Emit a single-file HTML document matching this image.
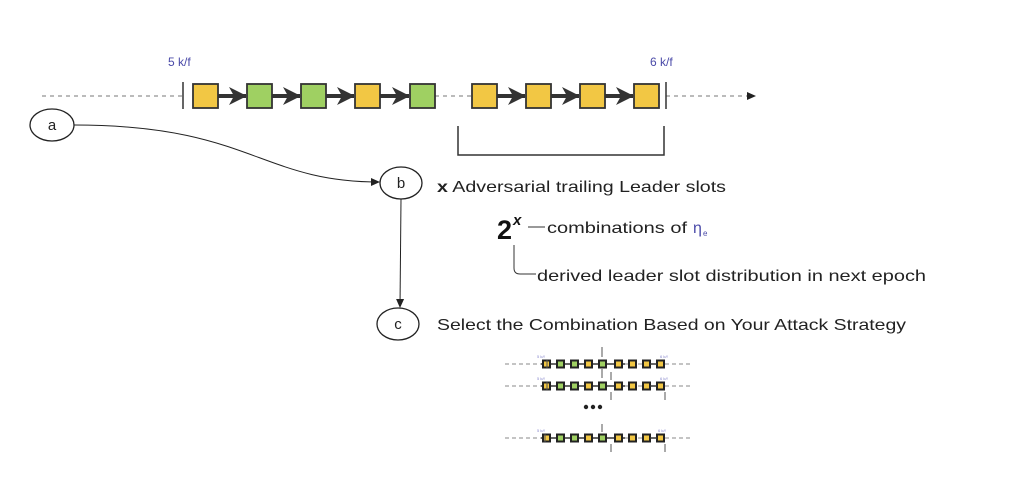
<!DOCTYPE html>
<html><head><meta charset="utf-8"><style>
body{margin:0;background:#fff;width:1029px;height:498px;overflow:hidden}
text{font-family:"Liberation Sans",sans-serif}
</style></head><body>
<svg width="1029" height="498" xmlns="http://www.w3.org/2000/svg">
<defs>
<marker id="ah" markerWidth="10" markerHeight="10" refX="8" refY="5" orient="auto" markerUnits="userSpaceOnUse"><path d="M0,1 L9,5 L0,9 Z" fill="#222"/></marker>
<marker id="big" markerWidth="20" markerHeight="20" refX="17" refY="10" orient="auto" markerUnits="userSpaceOnUse"><path d="M0,1 L18,10 L0,19 L5,10 Z" fill="#333"/></marker>
<g id="row">
<line x1="0" y1="0" x2="155" y2="0" stroke="#888" stroke-dasharray="4,3"/>
<line x1="36" y1="0" x2="120" y2="0" stroke="#333" stroke-width="1.5"/>
<g stroke="#222" stroke-width="2">
<rect x="38" y="-3.5" width="7" height="7" fill="#f2c744"/>
<rect x="52" y="-3.5" width="7" height="7" fill="#9fd062"/>
<rect x="66" y="-3.5" width="7" height="7" fill="#9fd062"/>
<rect x="80" y="-3.5" width="7" height="7" fill="#f2c744"/>
<rect x="94" y="-3.5" width="7" height="7" fill="#9fd062"/>
<rect x="110" y="-3.5" width="7" height="7" fill="#f2c744"/>
<rect x="124" y="-3.5" width="7" height="7" fill="#f2c744"/>
<rect x="138" y="-3.5" width="7" height="7" fill="#f2c744"/>
<rect x="152" y="-3.5" width="7" height="7" fill="#f2c744"/>
</g>
<line x1="145" y1="0" x2="152" y2="0" stroke="#333" stroke-width="1.5"/>
<line x1="160" y1="0" x2="188" y2="0" stroke="#888" stroke-dasharray="4,3"/>
</g>
</defs>
<text x="168" y="66" font-size="12" fill="#4a4aa8">5 k/f</text>
<text x="650" y="66" font-size="12" fill="#4a4aa8">6 k/f</text>
<line x1="42" y1="96" x2="183" y2="96" stroke="#777" stroke-dasharray="4,4"/>
<line x1="435" y1="96" x2="472" y2="96" stroke="#777" stroke-dasharray="4,4"/>
<line x1="666" y1="96" x2="755" y2="96" stroke="#777" stroke-dasharray="4,4" marker-end="url(#ah)"/>
<line x1="183" y1="82" x2="183" y2="109" stroke="#333" stroke-width="1.5"/>
<line x1="666" y1="82" x2="666" y2="109" stroke="#333" stroke-width="1.5"/>
<g stroke="#333" stroke-width="4">
<line x1="218" y1="96" x2="246" y2="96" marker-end="url(#big)"/>
<line x1="272" y1="96" x2="300" y2="96" marker-end="url(#big)"/>
<line x1="326" y1="96" x2="354" y2="96" marker-end="url(#big)"/>
<line x1="380" y1="96" x2="409" y2="96" marker-end="url(#big)"/>
<line x1="497" y1="96" x2="525" y2="96" marker-end="url(#big)"/>
<line x1="551" y1="96" x2="579" y2="96" marker-end="url(#big)"/>
<line x1="605" y1="96" x2="633" y2="96" marker-end="url(#big)"/>
</g>
<g stroke="#333" stroke-width="1.8">
<rect x="193" y="84" width="25" height="24" fill="#f2c744"/>
<rect x="247" y="84" width="25" height="24" fill="#9fd062"/>
<rect x="301" y="84" width="25" height="24" fill="#9fd062"/>
<rect x="355" y="84" width="25" height="24" fill="#f2c744"/>
<rect x="410" y="84" width="25" height="24" fill="#9fd062"/>
<rect x="472" y="84" width="25" height="24" fill="#f2c744"/>
<rect x="526" y="84" width="25" height="24" fill="#f2c744"/>
<rect x="580" y="84" width="25" height="24" fill="#f2c744"/>
<rect x="634" y="84" width="25" height="24" fill="#f2c744"/>
</g>
<path d="M458,126 V155 H664 V126" fill="none" stroke="#333" stroke-width="1.5"/>
<ellipse cx="52" cy="125" rx="22" ry="16" fill="#fff" stroke="#222" stroke-width="1.3"/>
<text x="52" y="130" font-size="15" text-anchor="middle" fill="#222">a</text>
<ellipse cx="401" cy="183" rx="21" ry="16" fill="#fff" stroke="#222" stroke-width="1.3"/>
<text x="401" y="188" font-size="15" text-anchor="middle" fill="#222">b</text>
<ellipse cx="398" cy="324" rx="21" ry="16" fill="#fff" stroke="#222" stroke-width="1.3"/>
<text x="398" y="329" font-size="15" text-anchor="middle" fill="#222">c</text>
<path d="M74,125 C250,125 260,182 379,182" fill="none" stroke="#222" marker-end="url(#ah)"/>
<line x1="401" y1="199" x2="400" y2="307" stroke="#222" marker-end="url(#ah)"/>
<text x="437" y="192" font-size="16" fill="#222" textLength="289" lengthAdjust="spacingAndGlyphs"><tspan font-weight="bold">x</tspan> Adversarial trailing Leader slots</text>
<text x="497" y="239" font-size="27" font-weight="bold" font-family="Liberation Serif" fill="#111">2</text>
<text x="513" y="225" font-size="15" font-weight="bold" font-style="italic" font-family="Liberation Serif" fill="#111">x</text>
<line x1="528" y1="227" x2="545" y2="227" stroke="#333"/>
<text x="547" y="233" font-size="16" fill="#222" textLength="140" lengthAdjust="spacingAndGlyphs">combinations of</text>
<text x="693" y="233" font-size="16" fill="#4a4aa8">η</text><text x="703" y="236" font-size="8" fill="#4a4aa8">e</text>
<path d="M514,245 V268 Q514,274 520,274 H536" fill="none" stroke="#333"/>
<text x="537" y="281" font-size="16" fill="#222" textLength="389" lengthAdjust="spacingAndGlyphs">derived leader slot distribution in next epoch</text>
<text x="437" y="330" font-size="16" fill="#222" textLength="469" lengthAdjust="spacingAndGlyphs">Select the Combination Based on Your Attack Strategy</text>
<use href="#row" x="505" y="364"/>
<use href="#row" x="505" y="386"/>
<use href="#row" x="505" y="438"/>
<g stroke="#555" stroke-width="1">
<line x1="602" y1="347" x2="602" y2="357"/><line x1="602" y1="369" x2="602" y2="378"/>
<line x1="611" y1="372" x2="611" y2="380"/><line x1="611" y1="392" x2="611" y2="400"/>
<line x1="665" y1="392" x2="665" y2="400"/>
<line x1="602" y1="424" x2="602" y2="432"/><line x1="611" y1="444" x2="611" y2="452"/><line x1="665" y1="444" x2="665" y2="452"/>
<line x1="547" y1="360" x2="547" y2="368"/><line x1="547" y1="382" x2="547" y2="390"/><line x1="545" y1="434" x2="545" y2="442"/>
</g>
<circle cx="586" cy="407" r="2.2" fill="#222"/><circle cx="593" cy="407" r="2.2" fill="#222"/><circle cx="600" cy="407" r="2.2" fill="#222"/>
<g font-size="4" fill="#8888cc"><text x="537" y="358">5 k/f</text><text x="660" y="358">6 k/f</text><text x="537" y="380">5 k/f</text><text x="660" y="380">6 k/f</text><text x="537" y="432">5 k/f</text><text x="658" y="432">6 k/f</text></g>
</svg>
</body></html>
